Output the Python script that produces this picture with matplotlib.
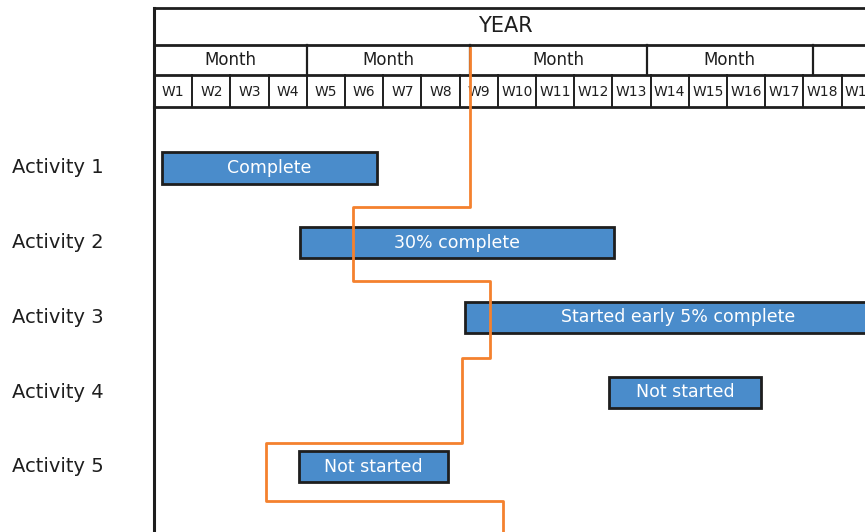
import matplotlib.pyplot as plt
import matplotlib.transforms as mtransforms

# data (x in weeks, y in activity rows)
activities = ["Activity 1", "Activity 2", "Activity 3", "Activity 4", "Activity 5"]
starts = [0.21, 3.82, 8.14, 11.9, 3.8]
ends = [5.84, 12.04, 19.3, 15.9, 7.7]
status = ["Complete", "30% complete", "Started early 5% complete", "Not started", "Not started"]

weeks = [f"W{i}" for i in range(1, 20)]
month_edges = [0, 4, 8.27, 12.9, 17.25]
month_labels = ["Month", "Month", "Month", "Month"]
year_label = "YEAR"

# progress ("today") line
progress_x = [8.27, 8.27, 5.21, 5.21, 8.8, 8.8, 8.06, 8.06, 2.93, 2.93, 9.14, 9.14]
progress_y = [-0.605, 1.522, 1.522, 2.512, 2.512, 3.542, 3.542, 4.679, 4.679, 5.455, 5.455, 5.9]

ink = "#1e1e1e"
blue = "#4a8ccb"
orange = "#f4812e"
n_visible_weeks = 711 / 38.2

fig = plt.figure(figsize=(8.65, 5.32), dpi=100)

# header
hx = fig.add_axes([154 / 865, 425 / 532, 711 / 865, 99 / 532])
hx.set_xlim(0, n_visible_weeks)
hx.set_ylim(99, 0)
hx.axis("off")
row_lines = [0, 37, 67, 99]
for y in row_lines:
    hx.axhline(y, color=ink, lw=2, clip_on=False)
hx.axvline(0, color=ink, lw=2.2, clip_on=False)
hx.text(9.2, 18.5, year_label, ha="center", va="center", fontsize=15, color=ink)
for i, a in enumerate(month_edges):
    if i > 0:
        hx.plot([a, a], [37, 67], color=ink, lw=1.6)
for i, lab in enumerate(month_labels):
    a, b = month_edges[i], month_edges[i + 1]
    hx.text((a + b) / 2, 52, lab, ha="center", va="center", fontsize=12, color=ink)
for i, lab in enumerate(weeks):
    if i > 0:
        hx.plot([i, i], [67, 99], color=ink, lw=1.4)
    hx.text(i + 0.5, 84, lab, ha="center", va="center", fontsize=10, color=ink, clip_on=True)

# body
ax = fig.add_axes([154 / 865, 0, 711 / 865, 425 / 532])
ax.set_facecolor("none")
ax.set_xlim(0, n_visible_weeks)
ax.set_ylim(5.87, 0.184)
for s in ["top", "right", "bottom"]:
    ax.spines[s].set_visible(False)
ax.spines["left"].set_linewidth(2.2)
ax.spines["left"].set_color(ink)
ax.set_xticks([])
ax.set_yticks([])

rows = list(range(1, len(activities) + 1))
ax.barh(rows, [e - s for s, e in zip(starts, ends)], left=starts, height=0.415,
        color=blue, edgecolor=ink, linewidth=2, zorder=2)
for r, s, e, txt in zip(rows, starts, ends, status):
    ax.text((s + e) / 2, r, txt, ha="center", va="center", fontsize=12.5,
            color="white", zorder=3, clip_on=True)

trans = mtransforms.blended_transform_factory(fig.transFigure, ax.transData)
for r, name in zip(rows, activities):
    ax.text(12 / 865, r, name, transform=trans, ha="left", va="center",
            fontsize=14, color=ink)

ax.plot(progress_x, progress_y, color=orange, lw=2, clip_on=False, zorder=4)

fig.savefig("out.png", dpi=100)
